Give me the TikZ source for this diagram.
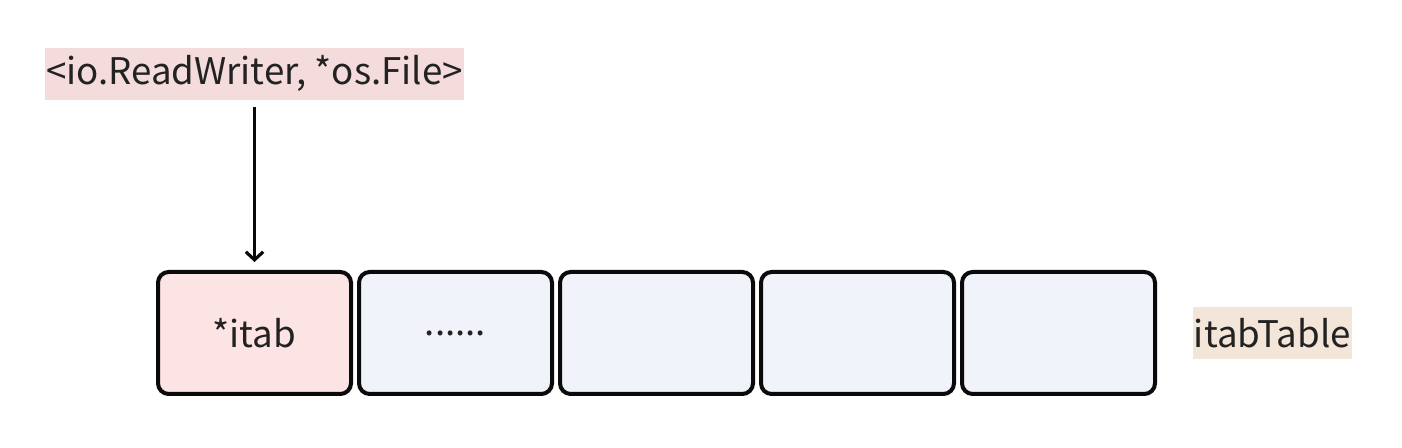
\documentclass[tikz,border=0pt]{standalone}
\usepackage{fontspec}
\setmainfont{Noto Sans CJK SC}
\usetikzlibrary{arrows.meta,positioning}

\definecolor{itabfill}{HTML}{FDE4E4}
\definecolor{slotfill}{HTML}{F0F3FA}
\definecolor{typefill}{HTML}{F3DCDB}
\definecolor{namefill}{HTML}{F3E5D8}
\definecolor{inkline}{HTML}{0A0A0A}
\definecolor{inktext}{HTML}{222222}

\begin{document}
\begin{tikzpicture}[
    x=0.75pt, y=-0.75pt,
    font=\fontsize{27.5}{33}\selectfont,
    node distance=3pt,
    slot/.style={draw=inkline, rounded corners=8pt, line width=3pt, fill=slotfill,
      minimum width=144.75pt, minimum height=91.5pt, text=inktext},
    tag/.style={inner xsep=0.5pt, inner ysep=0pt, minimum height=39pt, text=inktext},
    arr/.style={-{Straight Barb[length=6pt,width=13pt,line width=2.4pt]}, line width=2.4pt, draw=inkline}
  ]
    \useasboundingbox (0,0) rectangle (1402,448);
    \node[slot, fill=itabfill] (itab) at (254.5,333) {*itab};
    \node[slot, right=of itab] (s2) {......};
    \node[slot, right=of s2] (s3) {};
    \node[slot, right=of s3] (s4) {};
    \node[slot, right=of s4] (s5) {};
    \node[tag, fill=namefill, right=27pt of s5] (tbl) {itabTable};
    \node[tag, fill=typefill, above=127.5pt of itab] (pair) {<io.ReadWriter, *os.File>};

    \draw[arr] ([yshift=-5.25pt]pair.south) -- ([yshift=6pt]itab.north);
  \end{tikzpicture}
\end{document}
